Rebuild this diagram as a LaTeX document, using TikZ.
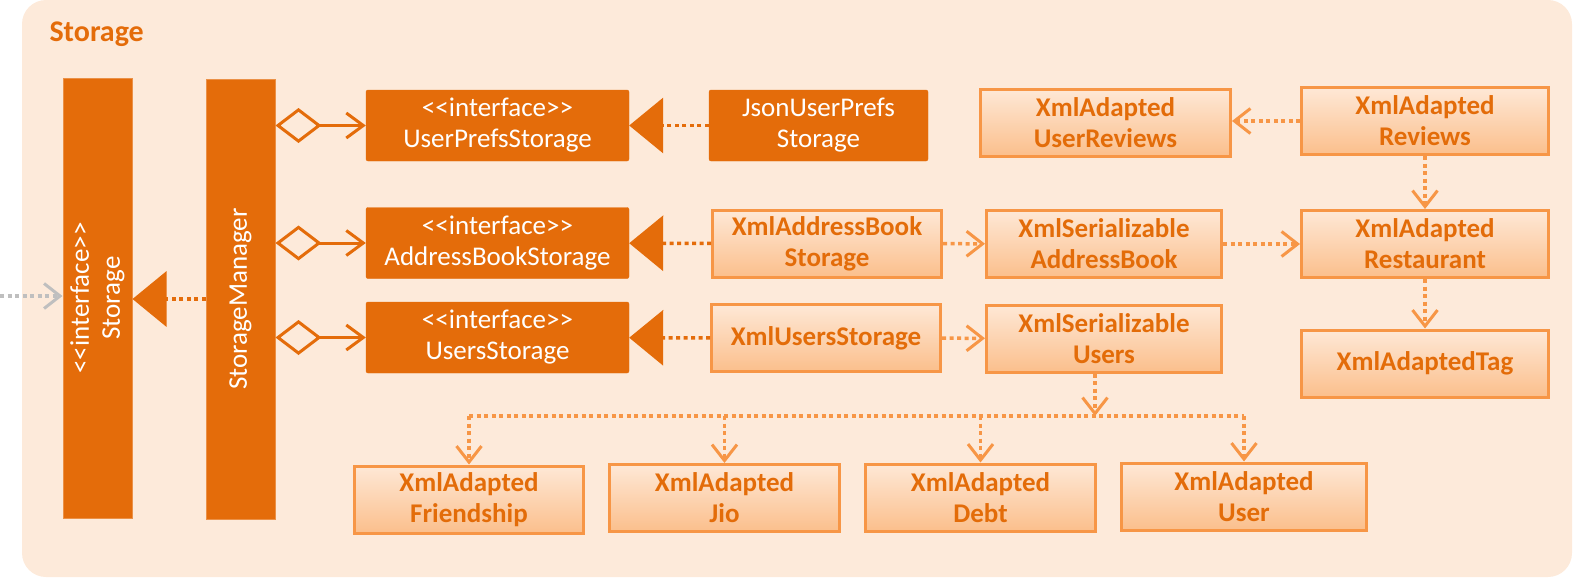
\documentclass[tikz,border=0pt]{standalone}
\usepackage{fontspec}
\setmainfont{Carlito}
\usepackage{tikz}
\usepackage{xcolor}
\usetikzlibrary{calc,arrows.meta}
\definecolor{stdark}{HTML}{E46C0A}
\definecolor{stline}{HTML}{F79646}
\definecolor{sttext}{HTML}{E36C09}
\definecolor{stback}{HTML}{FDEADA}
\definecolor{sttop}{HTML}{FEE8D6}
\definecolor{stbot}{HTML}{FBBF8C}
\definecolor{stgray}{HTML}{BFBFBF}
\newcommand\stereo[1]{<\kern0pt<#1>\kern0pt>}
\tikzset{
  iface/.style={ % dark interface box
    rectangle, rounded corners=2pt, fill=stdark, draw=stdark,
    text=white, align=center, inner sep=0pt,
    minimum height=71pt, font=\fontsize{27}{31}\selectfont
  },
  bar/.style={ % tall box, turned on its side (north = left edge)
    iface, rotate=90, rounded corners=0pt, draw=stdark!75!white,
    line width=1pt, minimum width=440pt, minimum height=69pt
  },
  xml/.style={ % light box of an xml class
    rectangle, draw=stline, line width=3pt,
    top color=sttop, bottom color=stbot,
    text=sttext, align=center, inner sep=0pt,
    minimum height=67pt, font=\fontsize{27}{31}\selectfont\bfseries
  },
  dotline/.style={line width=3.5pt, dash pattern=on 4pt off 3.5pt},
  real/.style={ % realization
    dotline, draw=stdark, -{Triangle[length=34pt,width=55pt]}
  },
  dep/.style={ % dependency
    dotline, draw=stline, -{Straight Barb[length=16pt,width=25pt,line width=3pt]}
  },
  agg/.style={ % aggregation
    draw=stdark, line width=3pt,
    {Diamond[open,length=46pt,width=35pt]}-{Straight Barb[length=17pt,width=25pt]}
  }
}
\begin{document}
\begin{tikzpicture}[x=1pt, y=-1pt]
  \useasboundingbox (0,0) rectangle (1576,578);
  \fill[stback, rounded corners=24pt] (22,0) rectangle (1572,577);
  \node[anchor=base west, text=stdark, font=\fontsize{30}{36}\selectfont\bfseries] (title) at (46,42) {Storage};

  \node[bar] (stor) at (97.5,298) {\stereo{interface}\\Storage};
  \node[bar] (mgr) at (240.5,299) {StorageManager};

  \node[iface, minimum width=263pt] (ups) at (497.5,125.5) {\stereo{interface}\\UserPrefsStorage};
  \node[iface, minimum width=263pt] (abs) at (497.5,243) {\stereo{interface}\\AddressBookStorage};
  \node[iface, minimum width=263pt] (us) at (497.5,337.5) {\stereo{interface}\\UsersStorage};
  \node[iface, minimum width=219pt] (json) at (818.5,125.5) {JsonUserPrefs\\Storage};

  \node[xml, minimum width=229pt] (xabs) at (827,243.5) {XmlAddressBook\\Storage};
  \node[xml, minimum width=229pt] (xus) at (826,338) {XmlUsersStorage};
  \node[xml, minimum width=235pt] (sab) at (1104,244) {XmlSerializable\\AddressBook};
  \node[xml, minimum width=235pt] (sus) at (1104,338.5) {XmlSerializable\\Users};
  \node[xml, minimum width=250pt] (ur) at (1105.5,122.5) {XmlAdapted\\UserReviews};
  \node[xml, minimum width=247pt] (rev) at (1425,121) {XmlAdapted\\Reviews};
  \node[xml, minimum width=247pt] (rest) at (1425,244) {XmlAdapted\\Restaurant};
  \node[xml, minimum width=247pt] (tag) at (1425,363.5) {XmlAdaptedTag};

  \node[xml, minimum width=229pt] (fr) at (469,499.5) {XmlAdapted\\Friendship};
  \node[xml, minimum width=230pt] (jio) at (724.5,498) {XmlAdapted\\Jio};
  \node[xml, minimum width=230pt] (debt) at (980.5,497.5) {XmlAdapted\\Debt};
  \node[xml, minimum width=245pt] (usr) at (1244,496.5) {XmlAdapted\\User};

  % from outside the package
  \coordinate (ext) at (0,296);
  \draw[dotline, draw=stgray, -{Straight Barb[length=16pt,width=25pt,line width=3pt]}] (ext) -- (ext -| stor.north);
  \draw[real] (mgr.north) -- (mgr.north -| stor.south);

  \draw[agg] (ups.west -| mgr.south) -- (ups.west);
  \draw[agg] (abs.west -| mgr.south) -- (abs.west);
  \draw[agg] (us.west -| mgr.south) -- (us.west);

  \draw[real] (json) -- (ups);
  \draw[real] (xabs) -- (abs);
  \draw[real] (xus) -- (us);

  \draw[dep] (xabs) -- (sab);
  \draw[dep] (xus) -- (sus);
  \draw[dep] (sab) -- (rest);
  \draw[dep] (rev.west) -- (rev.west -| ur.east);
  \draw[dep] (rev) -- (rest);
  \draw[dep] (rest) -- (tag);

  % fan out to the adapted user classes
  \coordinate (bus) at (0,416);
  \draw[dep] ([xshift=-9pt]sus.south) -- ([xshift=-9pt]sus.south |- bus);
  \draw[dotline, draw=stline] (fr.north |- bus) -- (usr.north |- bus);
  \draw[dep] (fr.north |- bus) -- (fr.north);
  \draw[dep] (jio.north |- bus) -- (jio.north);
  \draw[dep] (debt.north |- bus) -- (debt.north);
  \draw[dep] (usr.north |- bus) -- (usr.north);
\end{tikzpicture}
\end{document}
